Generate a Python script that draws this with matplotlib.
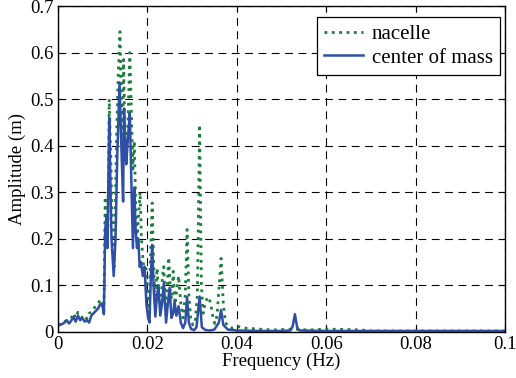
"""Amplitude spectrum: nacelle vs center of mass."""
import matplotlib
matplotlib.use("Agg")
import matplotlib.pyplot as plt

# nacelle (green dotted)
f_nac = [0.0, 0.001, 0.002, 0.003, 0.0035, 0.004, 0.0045, 0.005, 0.0055, 0.006,
         0.0065, 0.007, 0.0075, 0.008, 0.0085, 0.009, 0.0095, 0.0100, 0.0103, 0.0106,
         0.0109, 0.0112, 0.0115, 0.0119, 0.0123, 0.0126, 0.0131, 0.0135, 0.0139, 0.0142,
         0.0145, 0.0147, 0.0150, 0.0153, 0.0157, 0.0161, 0.0165, 0.0168, 0.0171, 0.0174,
         0.0177, 0.0180, 0.0184, 0.0187, 0.0190, 0.0193, 0.0197, 0.0201, 0.0204, 0.0207,
         0.0211, 0.0214, 0.0217, 0.0222, 0.0226, 0.0230, 0.0234, 0.0237, 0.0241, 0.0245,
         0.0248, 0.0252, 0.0255, 0.0258, 0.0262, 0.0266, 0.0270, 0.0275, 0.0280, 0.0285,
         0.0289, 0.0293, 0.0297, 0.0302, 0.0307, 0.0312, 0.0317, 0.0321, 0.0325, 0.0329,
         0.0333, 0.0337, 0.0342, 0.0347, 0.0351, 0.0356, 0.0360, 0.0365, 0.0370, 0.0375,
         0.0380, 0.0390, 0.0400, 0.0420, 0.0450, 0.0480, 0.0500, 0.0530, 0.0560, 0.0600,
         0.0650, 0.0680, 0.0700, 0.0800, 0.1000]
a_nac = [0.015, 0.018, 0.025, 0.030, 0.040, 0.030, 0.042, 0.035, 0.030, 0.035,
         0.028, 0.040, 0.042, 0.050, 0.055, 0.060, 0.070, 0.060, 0.045, 0.290,
         0.200, 0.220, 0.500, 0.350, 0.170, 0.140, 0.400, 0.550, 0.645, 0.500,
         0.400, 0.585, 0.420, 0.380, 0.450, 0.600, 0.450, 0.350, 0.410, 0.280,
         0.200, 0.240, 0.300, 0.200, 0.160, 0.130, 0.140, 0.060, 0.040, 0.150,
         0.277, 0.160, 0.060, 0.137, 0.070, 0.050, 0.120, 0.140, 0.050, 0.100,
         0.160, 0.080, 0.070, 0.130, 0.060, 0.090, 0.120, 0.060, 0.030, 0.080,
         0.220, 0.080, 0.030, 0.015, 0.020, 0.080, 0.445, 0.100, 0.040, 0.060,
         0.070, 0.075, 0.060, 0.030, 0.018, 0.035, 0.090, 0.158, 0.060, 0.020,
         0.012, 0.008, 0.012, 0.008, 0.006, 0.004, 0.005, 0.006, 0.004, 0.006,
         0.005, 0.004, 0.002, 0.002, 0.002]

# center of mass (blue solid)
f_com = [0.0, 0.0005, 0.001, 0.0015, 0.002, 0.0025, 0.003, 0.0035, 0.004, 0.0045,
         0.005, 0.0055, 0.006, 0.0065, 0.007, 0.0075, 0.008, 0.0085, 0.009, 0.0095,
         0.0100, 0.0103, 0.0106, 0.0109, 0.0111, 0.0115, 0.0118, 0.0120, 0.0125, 0.0129,
         0.0133, 0.0138, 0.0142, 0.0146, 0.0148, 0.0151, 0.0153, 0.0157, 0.0161, 0.0165,
         0.0168, 0.0171, 0.0174, 0.0177, 0.0180, 0.0183, 0.0186, 0.0190, 0.0194, 0.0198,
         0.0202, 0.0205, 0.0208, 0.0211, 0.0214, 0.0218, 0.0222, 0.0225, 0.0229, 0.0233,
         0.0237, 0.0242, 0.0246, 0.0250, 0.0254, 0.0258, 0.0261, 0.0265, 0.0270, 0.0275,
         0.0280, 0.0285, 0.0289, 0.0293, 0.0298, 0.0305, 0.0310, 0.0317, 0.0322, 0.0330,
         0.0340, 0.0350, 0.0360, 0.0365, 0.0370, 0.0380, 0.0400, 0.0450, 0.0500, 0.0520,
         0.0525, 0.0530, 0.0535, 0.0540, 0.0600, 0.1000]
a_com = [0.013, 0.015, 0.017, 0.020, 0.025, 0.018, 0.024, 0.032, 0.022, 0.035,
         0.025, 0.030, 0.022, 0.025, 0.020, 0.035, 0.040, 0.045, 0.050, 0.060,
         0.055, 0.038, 0.220, 0.250, 0.180, 0.460, 0.300, 0.200, 0.120, 0.200,
         0.380, 0.536, 0.400, 0.280, 0.480, 0.400, 0.360, 0.420, 0.470, 0.300,
         0.180, 0.310, 0.220, 0.180, 0.200, 0.140, 0.150, 0.120, 0.140, 0.060,
         0.030, 0.020, 0.120, 0.187, 0.100, 0.033, 0.080, 0.097, 0.035, 0.060,
         0.105, 0.020, 0.060, 0.095, 0.030, 0.040, 0.065, 0.035, 0.055, 0.020,
         0.008, 0.020, 0.075, 0.020, 0.006, 0.004, 0.010, 0.076, 0.010, 0.004,
         0.003, 0.005, 0.020, 0.047, 0.015, 0.005, 0.003, 0.002, 0.002, 0.003,
         0.012, 0.038, 0.010, 0.003, 0.002, 0.002]

xticks = [0, 0.02, 0.04, 0.06, 0.08, 0.1]
xlabels = ["0", "0.02", "0.04", "0.06", "0.08", "0.1"]
yticks = [0, 0.1, 0.2, 0.3, 0.4, 0.5, 0.6, 0.7]
ylabels = ["0", "0.1", "0.2", "0.3", "0.4", "0.5", "0.6", "0.7"]

plt.rcParams["font.family"] = ["Liberation Serif", "DejaVu Serif"]
plt.rcParams["font.size"] = 13.5

fig = plt.figure(figsize=(5.16, 3.78), dpi=100)
ax = fig.add_axes([0.112, 0.122, 0.867, 0.862])

ax.plot(f_nac, a_nac, color="#1b7f3b", ls=":", lw=2.0, label="nacelle")
ax.plot(f_com, a_com, color="#2f4fa6", ls="-", lw=1.8, label="center of mass")

ax.set_xlim(0, 0.1)
ax.set_ylim(0, 0.7)
ax.set_xticks(xticks)
ax.set_xticklabels(xlabels)
ax.set_yticks(yticks)
ax.set_yticklabels(ylabels)
ax.tick_params(direction="in", length=4, top=True, right=True, pad=3)
ax.grid(True, color="black", ls=(0, (7, 5)), lw=0.8)
for s in ax.spines.values():
    s.set_linewidth(1.0)

ax.set_xlabel("Frequency (Hz)", labelpad=0)
ax.set_ylabel("Amplitude (m)", labelpad=3)

leg = ax.legend(loc="upper right", bbox_to_anchor=(500 / 516, 1 - 17 / 378),
                bbox_transform=fig.transFigure, borderaxespad=0,
                fancybox=False, framealpha=1, edgecolor="black", fontsize=15,
                handlelength=1.9, handletextpad=0.4,
                borderpad=0.35, labelspacing=0.2)
leg.get_frame().set_linewidth(0.9)

fig.savefig("out.png", dpi=100)
